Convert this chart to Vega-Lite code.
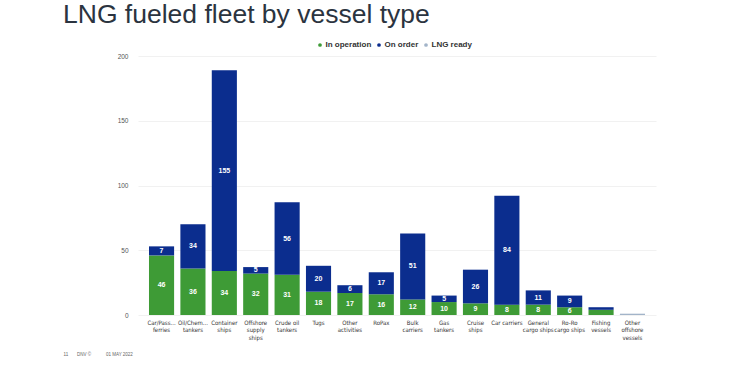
{
  "$schema": "https://vega.github.io/schema/vega-lite/v6.json",
  "width": 518,
  "height": 259,
  "autosize": {"type": "none"},
  "padding": {"left": 138, "top": 56, "right": 86, "bottom": 64},
  "background": "white",
  "title": {
    "text": "LNG fueled fleet by vessel type",
    "anchor": "start",
    "frame": "group",
    "dx": -75,
    "dy": 24,
    "offset": 10,
    "fontSize": 26.5,
    "font": "Liberation Sans",
    "fontWeight": "normal",
    "color": "#2b3440",
    "baseline": "bottom"
  },
  "data": {
    "values": [
      {"vessel": "Car/Pass...|ferries", "status": "In operation", "value": 46, "ord": 1},
      {"vessel": "Car/Pass...|ferries", "status": "On order", "value": 7, "ord": 2},
      {"vessel": "Oil/Chem...|tankers", "status": "In operation", "value": 36, "ord": 1},
      {"vessel": "Oil/Chem...|tankers", "status": "On order", "value": 34, "ord": 2},
      {"vessel": "Container|ships", "status": "In operation", "value": 34, "ord": 1},
      {"vessel": "Container|ships", "status": "On order", "value": 155, "ord": 2},
      {"vessel": "Offshore|supply|ships", "status": "In operation", "value": 32, "ord": 1},
      {"vessel": "Offshore|supply|ships", "status": "On order", "value": 5, "ord": 2},
      {"vessel": "Crude oil|tankers", "status": "In operation", "value": 31, "ord": 1},
      {"vessel": "Crude oil|tankers", "status": "On order", "value": 56, "ord": 2},
      {"vessel": "Tugs", "status": "In operation", "value": 18, "ord": 1},
      {"vessel": "Tugs", "status": "On order", "value": 20, "ord": 2},
      {"vessel": "Other|activities", "status": "In operation", "value": 17, "ord": 1},
      {"vessel": "Other|activities", "status": "On order", "value": 6, "ord": 2},
      {"vessel": "RoPax", "status": "In operation", "value": 16, "ord": 1},
      {"vessel": "RoPax", "status": "On order", "value": 17, "ord": 2},
      {"vessel": "Bulk|carriers", "status": "In operation", "value": 12, "ord": 1},
      {"vessel": "Bulk|carriers", "status": "On order", "value": 51, "ord": 2},
      {"vessel": "Gas|tankers", "status": "In operation", "value": 10, "ord": 1},
      {"vessel": "Gas|tankers", "status": "On order", "value": 5, "ord": 2},
      {"vessel": "Cruise|ships", "status": "In operation", "value": 9, "ord": 1},
      {"vessel": "Cruise|ships", "status": "On order", "value": 26, "ord": 2},
      {"vessel": "Car carriers", "status": "In operation", "value": 8, "ord": 1},
      {"vessel": "Car carriers", "status": "On order", "value": 84, "ord": 2},
      {"vessel": "General|cargo ships", "status": "In operation", "value": 8, "ord": 1},
      {"vessel": "General|cargo ships", "status": "On order", "value": 11, "ord": 2},
      {"vessel": "Ro-Ro|cargo ships", "status": "In operation", "value": 6, "ord": 1},
      {"vessel": "Ro-Ro|cargo ships", "status": "On order", "value": 9, "ord": 2},
      {"vessel": "Fishing|vessels", "status": "In operation", "value": 4, "ord": 1},
      {"vessel": "Fishing|vessels", "status": "On order", "value": 2, "ord": 2},
      {"vessel": "Other|offshore|vessels", "status": "LNG ready", "value": 1, "ord": 3}
    ]
  },
  "encoding": {
    "x": {
      "field": "vessel",
      "type": "nominal",
      "sort": null,
      "scale": {"paddingInner": 0.2, "paddingOuter": 0.35},
      "axis": {
        "labelExpr": "split(datum.label, '|')",
        "labelAngle": 0,
        "labelFontSize": 6,
        "labelFont": "DejaVu Sans Condensed, Liberation Sans Narrow, Liberation Sans",
        "labelColor": "#333333",
        "labelLineHeight": 7.5,
        "labelPadding": 4,
        "labelBaseline": "top",
        "domain": false,
        "ticks": false,
        "grid": false,
        "title": "11\u00a0\u00a0\u00a0\u00a0\u00a0\u00a0\u00a0DNV ©\u00a0\u00a0\u00a0\u00a0\u00a0\u00a0\u00a0\u00a0\u00a0\u00a0\u00a0\u00a001 MAY 2022",
        "titleX": -75,
        "titleY": 36,
        "titleAlign": "left",
        "titleAnchor": "start",
        "titleFontSize": 4.5,
        "titleFontWeight": "normal",
        "titleColor": "#666666",
        "titleFont": "Liberation Sans"
      }
    }
  },
  "layer": [
    {
      "mark": {"type": "bar"},
      "encoding": {
        "y": {
          "field": "value",
          "type": "quantitative",
          "stack": "zero",
          "scale": {"domain": [0, 200]},
          "axis": {
            "values": [0, 50, 100, 150, 200],
            "domain": false,
            "ticks": false,
            "labelFontSize": 6.5,
            "labelFont": "Liberation Sans",
            "labelColor": "#555555",
            "labelPadding": 10,
            "gridColor": "#eeeeee",
            "gridWidth": 0.8,
            "title": null
          }
        },
        "color": {
          "field": "status",
          "type": "nominal",
          "scale": {
            "domain": ["In operation", "On order", "LNG ready"],
            "range": ["#3e9b36", "#0b2d8e", "#a2b4c9"]
          },
          "legend": {
            "title": null,
            "orient": "none",
            "direction": "horizontal",
            "legendX": 178,
            "legendY": -15,
            "symbolType": "circle",
            "symbolSize": 14,
            "labelFontSize": 8,
            "labelFont": "Liberation Sans",
            "labelFontWeight": "bold",
            "labelColor": "#333333",
            "labelOffset": 1.5,
            "columnPadding": 3
          }
        },
        "order": {"field": "ord", "type": "quantitative"}
      }
    },
    {
      "transform": [
        {"stack": "value", "groupby": ["vessel"], "sort": [{"field": "ord", "order": "ascending"}], "as": ["y0", "y1"]},
        {"filter": "datum.value >= 5"},
        {"calculate": "(datum.y0 + datum.y1) / 2", "as": "ymid"}
      ],
      "mark": {"type": "text", "color": "white", "fontSize": 7, "fontWeight": "bold", "font": "Liberation Sans", "baseline": "middle"},
      "encoding": {
        "y": {"field": "ymid", "type": "quantitative"},
        "text": {"field": "value", "type": "quantitative"}
      }
    }
  ],
  "config": {"view": {"stroke": null}}
}
